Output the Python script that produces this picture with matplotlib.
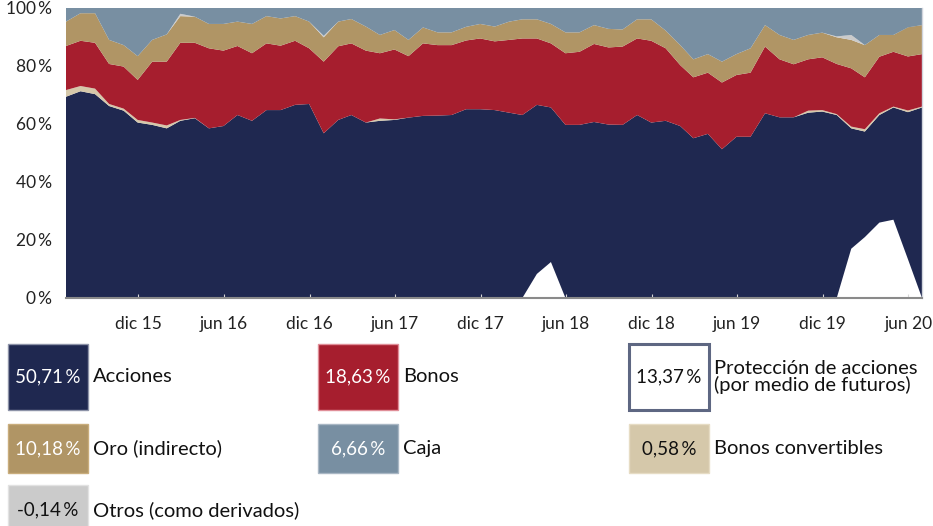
import matplotlib
matplotlib.use("Agg")
import matplotlib.pyplot as plt
from matplotlib.patches import Rectangle
import pandas as pd

plt.rcParams["font.family"] = ["Lato", "DejaVu Sans"]

# cierres de mes, jun 2015 - jun 2020
fechas = pd.date_range("2015-06-30", periods=61, freq="ME")

proteccion = [0, 0, 0, 0, 0, 0, 0, 0, 0, 0,
              0, 0, 0, 0, 0, 0, 0, 0, 0, 0,
              0, 0, 0, 0, 0, 0, 0, 0, 0, 0,
              0, 0, 0, 8.3, 12.4, 0, 0, 0, 0, 0,
              0, 0, 0, 0, 0, 0, 0, 0, 0, 0,
              0, 0, 0, 0, 0, 17.0, 21.0, 26.0, 27.0, 13.37,
              0]
acciones = [69.4, 71.3, 70.3, 66.2, 64.6, 60.5, 59.7, 58.5, 61.1, 62.0,
            58.5, 59.3, 63.1, 61.1, 64.8, 64.8, 66.6, 66.9, 56.8, 61.4,
            63.1, 60.5, 61.1, 61.4, 62.2, 62.8, 62.9, 63.1, 65.1, 65.1,
            64.8, 63.9, 63.1, 58.3, 53.3, 59.7, 59.7, 60.7, 59.8, 59.7,
            63.1, 60.5, 61.1, 59.3, 55.1, 56.6, 51.3, 55.6, 55.6, 63.7,
            62.3, 62.3, 63.9, 64.3, 63.1, 41.5, 36.4, 37.1, 38.7, 50.71,
            65.7]
convertibles = [2.3, 1.8, 1.9, 0.7, 0.7, 0.9, 0.8, 1.0, 0.3, 0.1,
                0, 0, 0, 0, 0, 0, 0, 0, 0, 0,
                0, 0, 0.8, 0.2, 0, 0, 0, 0, 0, 0,
                0, 0, 0, 0, 0, 0, 0, 0, 0, 0,
                0, 0, 0, 0, 0, 0, 0, 0, 0, 0,
                0, 0, 0.7, 0.5, 0.3, 0.6, 0.8, 0.6, 0.3, 0.58,
                0.3]
bonos = [15.2, 15.6, 15.8, 13.8, 14.5, 13.8, 21.0, 22.0, 26.6, 25.9,
         27.6, 26.0, 23.8, 23.3, 23.0, 22.2, 22.1, 19.2, 24.7, 25.4,
         24.7, 24.8, 22.5, 24.1, 21.2, 25.0, 24.3, 24.1, 23.7, 24.4,
         23.7, 25.1, 26.4, 22.9, 22.1, 24.7, 25.2, 26.9, 26.6, 27.0,
         26.4, 28.2, 25.0, 21.0, 21.0, 21.1, 23.0, 21.3, 22.1, 23.0,
         20.0, 18.3, 17.7, 18.2, 17.3, 20.1, 17.9, 19.5, 18.9, 18.63,
         18.1]
oro = [8.4, 9.5, 10.2, 8.3, 7.4, 8.2, 7.5, 9.4, 9.2, 9.0,
       8.4, 9.2, 8.4, 10.1, 9.4, 9.4, 8.5, 9.2, 8.4, 8.5,
       8.4, 8.3, 6.3, 6.7, 5.6, 5.5, 4.4, 4.4, 4.7, 5.0,
       5.1, 6.3, 6.6, 6.6, 6.7, 7.2, 6.7, 6.5, 6.4, 5.9,
       6.6, 7.4, 6.1, 6.9, 6.2, 6.4, 7.2, 7.2, 8.4, 7.4,
       8.4, 8.4, 8.4, 8.5, 9.2, 9.8, 11.1, 7.5, 5.8, 10.18,
       10.0]
otros = [0, 0, 0, 0, 0, 0, 0, 0, 0.8, 0,
         0, 0, 0, 0, 0, 0, 0, 0, 0.5, 0,
         0, 0, 0, 0, 0, 0, 0, 0, 0, 0,
         0, 0, 0, 0, 0, 0, 0, 0, 0, 0,
         0, 0, 0, 0, 0, 0, 0, 0, 0, 0,
         0, 0, 0, 0, 0.3, 1.7, 0, 0, 0, -0.14,
         0]
caja = [4.7, 1.8, 1.8, 11.0, 12.8, 16.6, 11.0, 9.1, 2.0, 3.0,
        5.5, 5.5, 4.7, 5.5, 2.8, 3.6, 2.8, 4.7, 9.6, 4.7,
        3.8, 6.4, 9.3, 7.6, 11.0, 6.7, 8.4, 8.4, 6.5, 5.5,
        6.4, 4.7, 3.9, 3.9, 5.5, 8.4, 8.4, 5.9, 7.2, 7.4,
        3.9, 3.9, 7.8, 12.8, 17.7, 15.9, 18.5, 15.9, 13.9, 5.9,
        9.3, 11.0, 9.3, 8.5, 9.8, 9.3, 12.8, 9.3, 9.3, 6.66,
        5.9]

tick_fechas = ["2015-12-01", "2016-06-01", "2016-12-01", "2017-06-01", "2017-12-01",
               "2018-06-01", "2018-12-01", "2019-06-01", "2019-12-01", "2020-06-01"]
tick_labels = ["dic 15", "jun 16", "dic 16", "jun 17", "dic 17",
               "jun 18", "dic 18", "jun 19", "dic 19", "jun 20"]

# leyenda: valor actual, nombre
leyenda_valores = [50.71, 18.63, 13.37, 10.18, 6.66, 0.58, -0.14]
leyenda_nombres = ["Acciones", "Bonos", "Protección de acciones\n(por medio de futuros)",
                   "Oro (indirecto)", "Caja", "Bonos convertibles", "Otros (como derivados)"]

C_ACC = "#1f2850"
C_BON = "#a61e2e"
C_ORO = "#b09565"
C_CAJA = "#788fa2"
C_CONV = "#d5c8aa"
C_OTROS = "#cbcbcb"

PCT = "\u2009%"

W, H = 933, 526
fig = plt.figure(figsize=(W / 100, H / 100), dpi=100)

ax = fig.add_axes([66 / W, 1 - 298 / H, (922 - 66) / W, 290 / H])
ax.stackplot(fechas, proteccion, acciones, convertibles, bonos, oro, otros, caja,
             colors=["white", C_ACC, C_CONV, C_BON, C_ORO, C_OTROS, C_CAJA],
             linewidth=0)
ax.set_xlim(fechas[0], fechas[-1])
ax.set_ylim(0, 100)
ax.set_yticks([0, 20, 40, 60, 80, 100])
ax.set_yticklabels([f"{v}{PCT}" for v in [0, 20, 40, 60, 80, 100]])
ax.set_xticks(pd.to_datetime(tick_fechas))
ax.set_xticklabels(tick_labels)
ax.tick_params(axis="y", length=0, pad=10, labelsize=12.5, labelcolor="#222222")
ax.tick_params(axis="x", length=3, direction="in", color="#d8d8d8", pad=13,
               labelsize=12.5, labelcolor="#222222")
for s in ["top", "left"]:
    ax.spines[s].set_visible(False)
ax.spines["bottom"].set_color("#8a8a8a")
ax.spines["bottom"].set_linewidth(1.5)
ax.spines["right"].set_color("#d0d4dc")
ax.spines["right"].set_linewidth(1.0)

# leyenda dibujada en coordenadas de pixel
lg = fig.add_axes([0, 0, 1, 1])
lg.set_xlim(0, W)
lg.set_ylim(H, 0)
lg.axis("off")

cajas = [
    # x, y, alto, relleno, borde, color texto
    (8, 344, 66, C_ACC, "#8d93a8", "white"),
    (318, 344, 66, C_BON, "#e08e98", "white"),
    (629, 344, 66, "white", "#5e6782", "#111111"),
    (8, 424, 49, C_ORO, "#c9ad7c", "white"),
    (318, 424, 49, C_CAJA, "#a9b7c4", "white"),
    (629, 424, 49, C_CONV, "#e6dcc4", "#111111"),
    (8, 485, 49, C_OTROS, "#e2e2e2", "#111111"),
]
for (x, y, h, fc, ec, tc), val, nombre in zip(cajas, leyenda_valores, leyenda_nombres):
    lw = 2.2 if fc == "white" else 1.0
    lg.add_patch(Rectangle((x, y), 80, h, facecolor=fc, edgecolor=ec, linewidth=lw))
    txt = f"{val:.2f}".replace(".", ",") + PCT
    yc = y + h / 2 if y < 480 else 510
    lg.text(x + 40, yc, txt, color=tc, fontsize=13.5, ha="center", va="center")
    lg.text(x + 85, yc, nombre, color="#111111", fontsize=14.5, ha="left", va="center",
            linespacing=0.95)

fig.savefig("out.png", dpi=100)
